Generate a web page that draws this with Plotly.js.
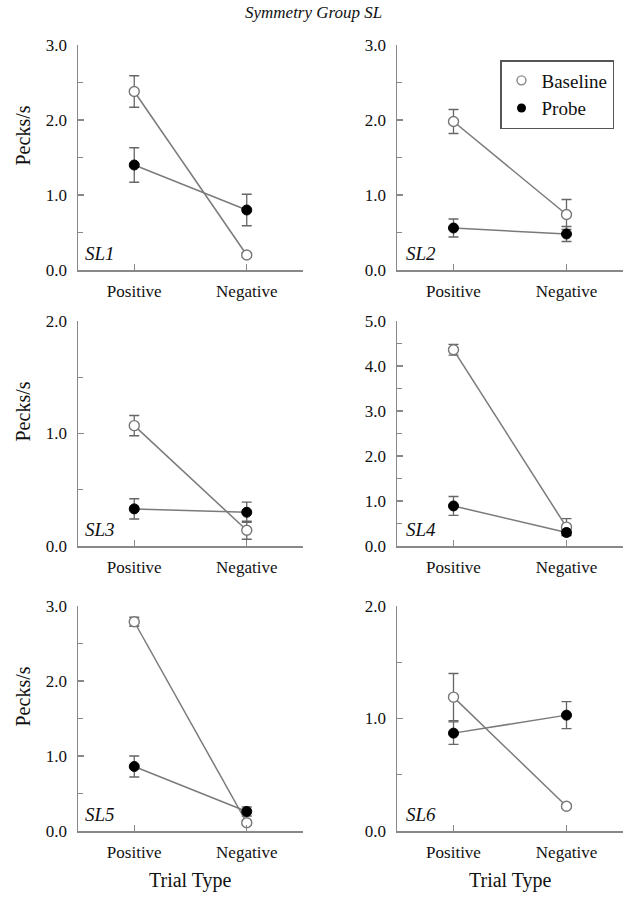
<!DOCTYPE html>
<html>
<head>
<meta charset="utf-8">
<script src="https://cdn.plot.ly/plotly-3.0.1.min.js"></script>
<style>html,body{margin:0;padding:0;background:#fff;}#chart{width:626px;height:898px;}</style>
</head>
<body>
<div id="chart"></div>
<script>
// ---- data ----
const categories = ['Positive', 'Negative'];
const panelNames = ['SL1', 'SL2', 'SL3', 'SL4', 'SL5', 'SL6'];
const yTops = [3, 3, 2, 5, 3, 2];

const sl1Baseline = [2.38, 0.20];  const sl1BaselineErr = [0.21, 0.03];
const sl1Probe    = [1.40, 0.80];  const sl1ProbeErr    = [0.23, 0.21];
const sl2Baseline = [1.98, 0.74];  const sl2BaselineErr = [0.16, 0.20];
const sl2Probe    = [0.56, 0.48];  const sl2ProbeErr    = [0.12, 0.10];
const sl3Baseline = [1.07, 0.14];  const sl3BaselineErr = [0.09, 0.08];
const sl3Probe    = [0.33, 0.30];  const sl3ProbeErr    = [0.09, 0.09];
const sl4Baseline = [4.36, 0.42];  const sl4BaselineErr = [0.12, 0.19];
const sl4Probe    = [0.89, 0.30];  const sl4ProbeErr    = [0.21, 0.07];
const sl5Baseline = [2.79, 0.11];  const sl5BaselineErr = [0.06, 0.03];
const sl5Probe    = [0.86, 0.26];  const sl5ProbeErr    = [0.14, 0.06];
const sl6Baseline = [1.19, 0.22];  const sl6BaselineErr = [0.21, 0.02];
const sl6Probe    = [0.87, 1.03];  const sl6ProbeErr    = [0.10, 0.12];

const baselineSets = [sl1Baseline, sl2Baseline, sl3Baseline, sl4Baseline, sl5Baseline, sl6Baseline];
const baselineErrs = [sl1BaselineErr, sl2BaselineErr, sl3BaselineErr, sl4BaselineErr, sl5BaselineErr, sl6BaselineErr];
const probeSets = [sl1Probe, sl2Probe, sl3Probe, sl4Probe, sl5Probe, sl6Probe];
const probeErrs = [sl1ProbeErr, sl2ProbeErr, sl3ProbeErr, sl4ProbeErr, sl5ProbeErr, sl6ProbeErr];

// ---- layout geometry (pixels) ----
const W = 626, H = 898;
const cols = [[78, 303], [397, 623]];
const rows = [[45, 270], [321, 546], [606, 831]];
const FONT = 'Liberation Serif';
const GREY = '#7a7a7a';

const traces = [];
const layout = {
  width: W, height: H,
  margin: {l: 0, r: 0, t: 0, b: 0},
  paper_bgcolor: '#fff', plot_bgcolor: '#fff',
  showlegend: true,
  font: {family: FONT, color: '#111', size: 17},
  legend: {
    x: 500 / W, y: 1 - 60 / H, xanchor: 'left', yanchor: 'top',
    bordercolor: '#555', borderwidth: 1.5, bgcolor: '#fff',
    font: {family: FONT, size: 19, color: '#111'},
    itemwidth: 30, tracegroupgap: 0
  },
  annotations: [],
  shapes: []
};

for (let i = 0; i < 6; i++) {
  const r = Math.floor(i / 2), c = i % 2;
  const sfx = i === 0 ? '' : String(i + 1);
  const xa = 'x' + sfx, ya = 'y' + sfx;
  const xdom = [cols[c][0] / W, cols[c][1] / W];
  const ydom = [1 - rows[r][1] / H, 1 - rows[r][0] / H];

  layout['xaxis' + sfx] = {
    domain: xdom, anchor: ya, type: 'category', range: [-0.5, 1.5],
    showline: true, linecolor: '#888', linewidth: 1.5,
    ticks: 'inside', ticklen: 6, tickwidth: 1.3, tickcolor: '#888',
    showgrid: false, zeroline: false, fixedrange: true,
    tickfont: {family: FONT, size: 17, color: '#111'},
    ticklabelstandoff: 5
  };
  layout['yaxis' + sfx] = {
    domain: ydom, anchor: xa, range: [0, yTops[i]],
    tick0: 0, dtick: 1, tickformat: '.1f',
    showline: true, linecolor: '#888', linewidth: 1.5,
    ticks: 'inside', ticklen: 6, tickwidth: 1.3, tickcolor: '#888',
    minor: {dtick: 0.5, tick0: 0, ticks: 'inside', ticklen: 5, tickwidth: 1.3, tickcolor: '#888', showgrid: false},
    showgrid: false, zeroline: false, fixedrange: true,
    tickfont: {family: FONT, size: 17, color: '#111'},
    ticklabelstandoff: 6
  };

  traces.push({
    x: categories, y: baselineSets[i], xaxis: xa, yaxis: ya,
    mode: 'lines+markers', showlegend: false, cliponaxis: false,
    line: {color: GREY, width: 1.5},
    marker: {symbol: 'circle', size: 10, color: '#fff', line: {color: '#777', width: 1.4}},
    error_y: {type: 'data', array: baselineErrs[i], visible: true, color: '#666', thickness: 1.3, width: 5}
  });
  traces.push({
    x: categories, y: probeSets[i], xaxis: xa, yaxis: ya,
    mode: 'lines+markers', showlegend: false, cliponaxis: false,
    line: {color: GREY, width: 1.5},
    marker: {symbol: 'circle', size: 10, color: '#000', line: {color: '#000', width: 1}},
    error_y: {type: 'data', array: probeErrs[i], visible: true, color: '#666', thickness: 1.3, width: 5}
  });

  layout.annotations.push({
    text: '<i>' + panelNames[i] + '</i>', xref: 'paper', yref: 'paper',
    x: (cols[c][0] + (c === 0 ? 5 : 7)) / W, y: 1 - (rows[r][1] - 17) / H,
    xanchor: 'left', yanchor: 'middle', showarrow: false,
    font: {family: FONT, size: 19, color: '#111'}
  });

  if (c === 0) {
    layout.annotations.push({
      text: 'Pecks/s', xref: 'paper', yref: 'paper',
      x: 22 / W, y: 1 - ((rows[r][0] + rows[r][1]) / 2 - 22) / H,
      xanchor: 'center', yanchor: 'middle', textangle: -90, showarrow: false,
      font: {family: FONT, size: 20, color: '#111'}
    });
  }
  if (r === 2) {
    layout.annotations.push({
      text: 'Trial Type', xref: 'paper', yref: 'paper',
      x: ((cols[c][0] + cols[c][1]) / 2) / W, y: 1 - 880 / H,
      xanchor: 'center', yanchor: 'middle', showarrow: false,
      font: {family: FONT, size: 20, color: '#111'}
    });
  }
}

// legend-only entries
traces.push({
  x: [null], y: [null], xaxis: 'x2', yaxis: 'y2', mode: 'markers', name: 'Baseline',
  marker: {symbol: 'circle', size: 9, color: '#fff', line: {color: '#888', width: 1.4}}
});
traces.push({
  x: [null], y: [null], xaxis: 'x2', yaxis: 'y2', mode: 'markers', name: 'Probe',
  marker: {symbol: 'circle', size: 9, color: '#000'}
});

layout.annotations.push({
  text: '<i>Symmetry Group SL</i>', xref: 'paper', yref: 'paper',
  x: 313 / W, y: 1 - 13 / H, xanchor: 'center', yanchor: 'middle', showarrow: false,
  font: {family: FONT, size: 17, color: '#111'}
});

Plotly.newPlot('chart', traces, layout, {displayModeBar: false, staticPlot: true});
</script>
</body>
</html>
